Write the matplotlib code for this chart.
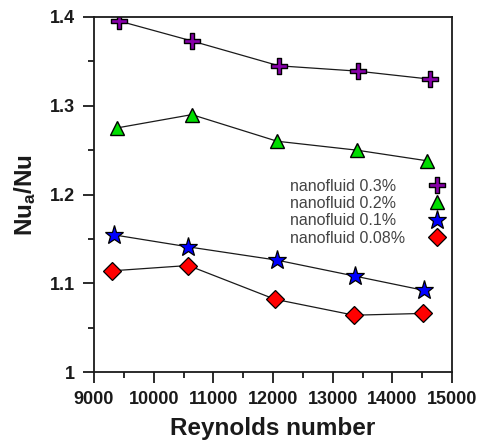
import matplotlib
matplotlib.use("Agg")
import matplotlib.pyplot as plt
from matplotlib.ticker import MultipleLocator
from matplotlib.path import Path

plt.rcParams['font.family'] = ['Liberation Sans', 'DejaVu Sans']
plt.rcParams['mathtext.fontset'] = 'custom'
plt.rcParams['mathtext.rm'] = 'Liberation Sans:bold'
plt.rcParams['mathtext.it'] = 'Liberation Sans:bold'
plt.rcParams['mathtext.bf'] = 'Liberation Sans:bold'

# Data
re_03 = [9420, 10640, 12100, 13420, 14630]
nu_03 = [1.3955, 1.373, 1.345, 1.339, 1.330]
re_02 = [9385, 10640, 12070, 13400, 14580]
nu_02 = [1.275, 1.290, 1.260, 1.250, 1.238]
re_01 = [9335, 10580, 12070, 13375, 14530]
nu_01 = [1.1545, 1.141, 1.126, 1.108, 1.092]
re_008 = [9300, 10580, 12030, 13357, 14513]
nu_008 = [1.114, 1.120, 1.082, 1.064, 1.066]
labels = ['nanofluid 0.3%', 'nanofluid 0.2%', 'nanofluid 0.1%', 'nanofluid 0.08%']

# plus marker shape with moderately thin arms
a = 0.24
plus_verts = [(-a, -1), (a, -1), (a, -a), (1, -a), (1, a), (a, a), (a, 1), (-a, 1),
              (-a, a), (-1, a), (-1, -a), (-a, -a), (-a, -1)]
plus_marker = Path(plus_verts, closed=True)

fig = plt.figure(figsize=(4.8, 4.48), dpi=100)
ax = fig.add_axes([94/480, 1 - 372/448, 358/480, 355/448])

lc = '#1a1a1a'
ax.plot(re_03, nu_03, '-', color=lc, lw=0.9, marker=plus_marker, ms=12, mfc='#8800aa', mec='black', mew=1.0, label=labels[0])
ax.plot(re_02, nu_02, '-', color=lc, lw=0.9, marker='^', ms=10.5, mfc='#00dd00', mec='black', mew=1.0, label=labels[1])
ax.plot(re_01, nu_01, '-', color=lc, lw=0.9, marker='*', ms=14, mfc='#0000ff', mec='black', mew=0.9, label=labels[2])
ax.plot(re_008, nu_008, '-', color=lc, lw=0.9, marker='D', ms=9.5, mfc='#ff0000', mec='black', mew=0.9, label=labels[3])

ax.set_xlim(9000, 15000)
ax.set_ylim(1.0, 1.4)
ax.xaxis.set_major_locator(MultipleLocator(1000))
ax.xaxis.set_minor_locator(MultipleLocator(500))
ax.yaxis.set_minor_locator(MultipleLocator(0.05))
ax.set_yticks([1.0, 1.1, 1.2, 1.3, 1.4])
ax.set_yticklabels(['1', '1.1', '1.2', '1.3', '1.4'])

ax.tick_params(which='major', direction='out', length=8, width=1.3, color='#1a1a1a',
               labelsize=13, pad=6)
ax.tick_params(which='minor', direction='out', length=4.5, width=1.3, color='#1a1a1a')
for lab in ax.get_xticklabels() + ax.get_yticklabels():
    lab.set_fontweight('bold')
    lab.set_color('#1a1a1a')
for s in ax.spines.values():
    s.set_linewidth(1.3)
    s.set_color('#1a1a1a')

ax.set_xlabel('Reynolds number', fontsize=17.5, fontweight='bold', color='#1a1a1a', labelpad=6)
ax.set_ylabel('Nu$_{a}$/Nu', fontsize=17.5, fontweight='bold', color='#1a1a1a', labelpad=8)

fs_leg = 11.5
pad_em = 1.0
leg = ax.legend(loc='upper left', bbox_to_anchor=(0.547, 0.545), frameon=False,
                markerfirst=False, fontsize=fs_leg, labelspacing=0.15, handletextpad=pad_em,
                borderpad=0, borderaxespad=0, handlelength=2.0, numpoints=1)
for t in leg.get_texts():
    t.set_color('#444444')
for h in leg.legend_handles:
    h.set_linestyle('None')

# left-align legend texts while keeping markers in one column
fig.canvas.draw()
renderer = fig.canvas.get_renderer()
widths = [t.get_window_extent(renderer).width for t in leg.get_texts()]
maxw = max(widths)
col = leg._legend_handle_box.get_children()[0]
col.align = 'left'
sep_px = pad_em * fs_leg * fig.dpi / 72
for row, w in zip(col.get_children(), widths):
    row.sep = (sep_px + (maxw - w)) * 72 / fig.dpi

fig.savefig('out.png', dpi=100)
